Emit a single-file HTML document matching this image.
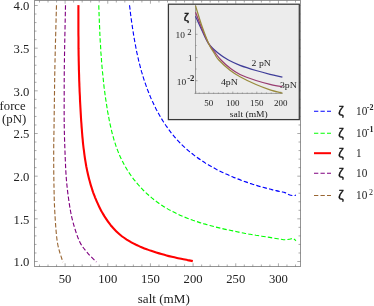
<!DOCTYPE html>
<html><head><meta charset="utf-8"><style>
html,body{margin:0;padding:0;background:#fff;}
svg{display:block;will-change:transform;font-family:"Liberation Serif",serif;}
.t text{font-size:11.5px;fill:#222;}
.i text{font-size:8.7px;fill:#222;}
.z{font-size:12.6px;stroke:#111;stroke-width:0.35px;fill:#111;font-family:"Liberation Sans",sans-serif;}
.lg{font-size:11.5px;fill:#222;}
.sup{font-size:8px;font-weight:bold;fill:#222;}
</style></head><body>
<svg width="374" height="306" viewBox="0 0 374 306">
<rect width="374" height="306" fill="#fff"/>
<g fill="none" stroke-linecap="butt" stroke-linejoin="round">
<path d="M56.5 5.3C56.2 14.8 55.3 47.5 55.0 62.0C54.7 76.5 54.6 82.0 54.5 92.0C54.4 102.0 54.2 112.0 54.1 122.0C54.0 132.0 53.7 142.0 53.7 152.0C53.7 162.0 53.7 172.0 53.9 182.0C54.1 192.0 54.2 201.8 54.8 212.0C55.4 222.2 56.1 234.6 57.5 243.0C58.9 251.4 62.1 259.0 63.0 262.2" stroke="#996633" stroke-width="1.12" stroke-dasharray="4.4 2.2"/>
<path d="M65.5 5.3C65.3 14.8 64.6 47.5 64.4 62.0C64.2 76.5 64.2 82.0 64.2 92.0C64.2 102.0 64.1 112.0 64.2 122.0C64.3 132.0 64.6 142.0 65.0 152.0C65.4 162.0 65.7 172.2 66.6 182.0C67.5 191.8 69.1 203.2 70.5 211.0C71.9 218.8 73.4 223.7 75.0 229.0C76.6 234.3 78.2 239.0 80.3 243.0C82.4 247.0 84.8 249.6 87.5 252.8C90.2 256.0 94.9 260.5 96.4 262.0" stroke="#800080" stroke-width="1.12" stroke-dasharray="4.4 2.2"/>
<path d="M98.8 5.3C98.8 6.3 98.9 9.3 99.0 11.2C99.0 13.2 99.1 15.2 99.2 17.2C99.3 19.1 99.3 21.1 99.4 23.1C99.5 25.0 99.6 27.0 99.7 28.9C99.8 30.9 99.8 32.9 99.9 34.8C100.0 36.8 100.1 38.7 100.2 40.7C100.3 42.6 100.5 44.6 100.6 46.5C100.7 48.5 100.8 50.4 100.9 52.4C101.1 54.3 101.2 56.3 101.4 58.2C101.5 60.2 101.6 62.1 101.8 64.1C102.0 66.0 102.1 68.0 102.3 69.9C102.5 71.9 102.7 73.8 102.9 75.7C103.1 77.7 103.3 79.6 103.5 81.6C103.7 83.5 103.9 85.5 104.1 87.4C104.4 89.4 104.6 91.3 104.9 93.2C105.1 95.2 105.4 97.1 105.7 99.1C106.0 101.0 106.3 103.0 106.6 104.9C106.9 106.9 107.2 108.8 107.5 110.8C107.9 112.7 108.2 114.7 108.6 116.6C108.9 118.6 109.3 120.5 109.7 122.5C110.1 124.4 110.6 126.4 111.0 128.3C111.5 130.2 111.9 132.1 112.4 134.1C112.9 136.0 113.5 137.9 114.0 139.8C114.6 141.7 115.2 143.5 115.8 145.4C116.4 147.3 117.1 149.1 117.8 150.9C118.5 152.8 119.3 154.6 120.1 156.4C120.9 158.1 121.7 159.9 122.6 161.6C123.4 163.4 124.4 165.1 125.4 166.8C126.3 168.5 127.3 170.1 128.4 171.8C129.5 173.4 130.6 175.0 131.7 176.6C132.9 178.2 134.1 179.7 135.3 181.2C136.5 182.8 137.8 184.2 139.1 185.7C140.4 187.2 141.7 188.6 143.1 190.0C144.5 191.3 145.9 192.7 147.3 194.0C148.8 195.3 150.3 196.6 151.8 197.9C153.3 199.1 154.8 200.3 156.4 201.5C158.0 202.6 159.6 203.8 161.2 204.9C162.8 205.9 164.5 207.0 166.2 208.0C167.8 209.0 169.5 210.0 171.3 210.9C173.0 211.8 174.7 212.7 176.5 213.5C178.3 214.4 180.1 215.2 181.9 216.0C183.7 216.8 185.5 217.5 187.3 218.2C189.2 218.9 191.0 219.6 192.9 220.3C194.8 220.9 196.6 221.5 198.5 222.1C200.4 222.8 202.3 223.3 204.2 223.9C206.1 224.4 208.0 225.0 209.9 225.5C211.8 226.0 213.7 226.5 215.6 227.0C217.6 227.5 219.5 227.9 221.4 228.4C223.3 228.9 225.2 229.3 227.1 229.7C229.0 230.1 231.0 230.5 232.9 230.9C234.8 231.3 236.7 231.7 238.6 232.1C240.5 232.5 242.5 232.9 244.4 233.2C246.3 233.6 248.2 233.9 250.2 234.3C252.1 234.6 254.0 234.9 255.9 235.3C257.9 235.6 259.8 235.9 261.7 236.2C263.7 236.5 265.6 236.8 267.5 237.1C269.5 237.5 271.4 237.8 273.3 238.1C275.3 238.4 277.2 238.6 279.1 238.9C281.1 239.2 283.3 239.8 285.0 239.8C286.6 239.9 287.7 239.4 289.1 239.2C290.5 239.0 292.1 238.4 293.2 238.7C294.3 238.9 295.5 240.4 296.0 240.7" stroke="#00ff00" stroke-width="1.12" stroke-dasharray="4.4 2.2"/>
<path d="M129.5 5.2C129.6 6.0 129.9 8.2 130.1 9.7C130.3 11.2 130.4 12.7 130.6 14.2C130.8 15.7 131.0 17.2 131.2 18.7C131.4 20.2 131.6 21.7 131.8 23.2C132.1 24.7 132.3 26.2 132.5 27.7C132.7 29.2 132.9 30.6 133.2 32.1C133.4 33.6 133.6 35.1 133.9 36.6C134.1 38.1 134.4 39.6 134.7 41.1C134.9 42.5 135.2 44.0 135.5 45.5C135.8 47.0 136.0 48.5 136.3 49.9C136.6 51.4 136.9 52.9 137.3 54.4C137.6 55.8 137.9 57.3 138.3 58.8C138.6 60.2 138.9 61.7 139.3 63.2C139.7 64.6 140.1 66.1 140.4 67.5C140.8 69.0 141.2 70.4 141.6 71.9C142.1 73.3 142.5 74.8 142.9 76.2C143.4 77.7 143.8 79.1 144.3 80.6C144.8 82.0 145.3 83.4 145.8 84.9C146.3 86.3 146.8 87.7 147.3 89.1C147.9 90.6 148.4 92.0 149.0 93.4C149.5 94.8 150.1 96.2 150.7 97.6C151.3 99.0 152.0 100.4 152.6 101.8C153.2 103.2 153.9 104.5 154.5 105.9C155.2 107.3 155.9 108.6 156.6 110.0C157.3 111.3 158.0 112.6 158.8 114.0C159.5 115.3 160.3 116.6 161.0 117.9C161.8 119.2 162.6 120.5 163.4 121.7C164.2 123.0 165.1 124.3 165.9 125.5C166.8 126.8 167.6 128.0 168.5 129.2C169.4 130.4 170.3 131.6 171.2 132.8C172.1 134.0 173.1 135.1 174.1 136.3C175.0 137.4 176.0 138.6 177.0 139.7C178.0 140.8 179.0 141.9 180.1 143.0C181.1 144.0 182.2 145.1 183.3 146.1C184.4 147.1 185.5 148.1 186.6 149.1C187.7 150.1 188.9 151.1 190.0 152.1C191.2 153.0 192.4 153.9 193.6 154.9C194.7 155.8 196.0 156.7 197.2 157.5C198.4 158.4 199.7 159.3 200.9 160.1C202.2 161.0 203.4 161.8 204.7 162.6C206.0 163.4 207.3 164.2 208.6 164.9C209.9 165.7 211.2 166.5 212.5 167.2C213.9 167.9 215.2 168.7 216.5 169.4C217.9 170.1 219.2 170.8 220.6 171.4C222.0 172.1 223.3 172.8 224.7 173.4C226.1 174.0 227.5 174.7 228.9 175.3C230.3 175.9 231.7 176.5 233.1 177.1C234.5 177.6 235.9 178.2 237.3 178.8C238.7 179.3 240.1 179.8 241.5 180.4C242.9 180.9 244.4 181.4 245.8 181.9C247.2 182.4 248.6 182.9 250.1 183.4C251.5 183.8 252.9 184.3 254.4 184.7C255.8 185.2 257.3 185.6 258.7 186.1C260.1 186.5 261.6 186.9 263.0 187.3C264.5 187.7 265.9 188.1 267.4 188.5C268.9 188.9 270.3 189.2 271.8 189.6C273.2 190.0 274.7 190.3 276.1 190.6C277.6 191.0 279.1 191.3 280.5 191.6C282.0 192.0 283.5 192.1 284.9 192.6C286.4 193.1 287.7 194.2 289.1 194.7C290.5 195.2 292.1 195.5 293.2 195.6C294.3 195.7 295.5 195.2 296.0 195.1" stroke="#0000ff" stroke-width="1.12" stroke-dasharray="4.4 2.2"/>
<path d="M78.5 5.2C78.4 6.1 78.4 8.9 78.4 10.7C78.4 12.5 78.4 14.3 78.4 16.1C78.4 17.9 78.4 19.7 78.4 21.5C78.4 23.3 78.4 25.1 78.4 26.9C78.4 28.7 78.4 30.5 78.4 32.3C78.4 34.1 78.4 35.9 78.5 37.7C78.5 39.5 78.5 41.3 78.5 43.1C78.5 44.8 78.5 46.6 78.5 48.4C78.6 50.2 78.6 52.0 78.6 53.8C78.6 55.5 78.7 57.3 78.7 59.1C78.7 60.9 78.8 62.7 78.8 64.5C78.9 66.2 78.9 68.0 78.9 69.8C79.0 71.6 79.0 73.4 79.1 75.1C79.1 76.9 79.2 78.7 79.2 80.5C79.3 82.3 79.4 84.0 79.4 85.8C79.5 87.6 79.6 89.4 79.6 91.2C79.7 92.9 79.8 94.7 79.9 96.5C79.9 98.3 80.0 100.1 80.1 101.9C80.2 103.7 80.3 105.4 80.4 107.2C80.5 109.0 80.6 110.8 80.7 112.6C80.8 114.4 80.9 116.2 81.0 118.0C81.1 119.8 81.2 121.6 81.4 123.4C81.5 125.2 81.6 127.0 81.8 128.8C81.9 130.6 82.0 132.4 82.2 134.2C82.3 136.0 82.5 137.8 82.7 139.6C82.8 141.4 83.0 143.2 83.2 145.0C83.4 146.8 83.6 148.6 83.9 150.4C84.1 152.2 84.3 154.0 84.6 155.8C84.8 157.6 85.1 159.4 85.4 161.2C85.7 162.9 86.0 164.7 86.3 166.5C86.7 168.2 87.0 170.0 87.4 171.8C87.8 173.5 88.2 175.3 88.6 177.0C89.0 178.7 89.5 180.4 90.0 182.2C90.4 183.9 90.9 185.6 91.5 187.3C92.0 189.0 92.6 190.7 93.1 192.3C93.7 194.0 94.4 195.7 95.0 197.3C95.7 199.0 96.3 200.6 97.1 202.2C97.8 203.8 98.5 205.4 99.3 207.0C100.1 208.6 101.0 210.2 101.8 211.8C102.7 213.3 103.6 214.9 104.5 216.4C105.5 217.9 106.5 219.4 107.5 220.9C108.5 222.4 109.6 223.8 110.7 225.2C111.9 226.6 113.0 228.0 114.3 229.3C115.5 230.6 116.8 231.9 118.1 233.1C119.4 234.3 120.8 235.4 122.2 236.5C123.7 237.6 125.2 238.6 126.7 239.6C128.2 240.5 129.7 241.4 131.3 242.3C132.9 243.2 134.5 244.0 136.1 244.8C137.7 245.5 139.4 246.3 141.0 247.0C142.7 247.7 144.3 248.4 146.0 249.0C147.7 249.6 149.4 250.3 151.1 250.8C152.8 251.4 154.5 252.0 156.2 252.5C157.9 253.0 159.6 253.5 161.4 254.0C163.1 254.5 164.8 255.0 166.5 255.4C168.3 255.9 170.0 256.3 171.8 256.7C173.5 257.1 175.3 257.5 177.0 257.9C178.8 258.3 180.5 258.6 182.3 259.0C184.0 259.4 185.8 259.7 187.5 260.1C189.3 260.4 191.9 260.9 192.8 261.1" stroke="#ff0000" stroke-width="2.1"/>
</g>
<rect x="34.5" y="0.5" width="266.0" height="266.0" fill="none" stroke="#666" stroke-opacity="0.7" stroke-width="1"/>
<path d="M39.50 266.50v-2.00M39.50 0.50v2.00M48.03 266.50v-2.00M48.03 0.50v2.00M56.56 266.50v-2.00M56.56 0.50v2.00M65.10 266.50v-3.20M65.10 0.50v3.20M73.63 266.50v-2.00M73.63 0.50v2.00M82.16 266.50v-2.00M82.16 0.50v2.00M90.70 266.50v-2.00M90.70 0.50v2.00M99.23 266.50v-2.00M99.23 0.50v2.00M107.76 266.50v-3.20M107.76 0.50v3.20M116.30 266.50v-2.00M116.30 0.50v2.00M124.83 266.50v-2.00M124.83 0.50v2.00M133.36 266.50v-2.00M133.36 0.50v2.00M141.90 266.50v-2.00M141.90 0.50v2.00M150.43 266.50v-3.20M150.43 0.50v3.20M158.96 266.50v-2.00M158.96 0.50v2.00M167.50 266.50v-2.00M167.50 0.50v2.00M176.03 266.50v-2.00M176.03 0.50v2.00M184.56 266.50v-2.00M184.56 0.50v2.00M193.10 266.50v-3.20M193.10 0.50v3.20M201.63 266.50v-2.00M201.63 0.50v2.00M210.16 266.50v-2.00M210.16 0.50v2.00M218.70 266.50v-2.00M218.70 0.50v2.00M227.23 266.50v-2.00M227.23 0.50v2.00M235.76 266.50v-3.20M235.76 0.50v3.20M244.30 266.50v-2.00M244.30 0.50v2.00M252.83 266.50v-2.00M252.83 0.50v2.00M261.36 266.50v-2.00M261.36 0.50v2.00M269.90 266.50v-2.00M269.90 0.50v2.00M278.43 266.50v-3.20M278.43 0.50v3.20M286.96 266.50v-2.00M286.96 0.50v2.00M295.50 266.50v-2.00M295.50 0.50v2.00M34.50 261.50h3.20M300.50 261.50h-3.20M34.50 252.97h2.00M300.50 252.97h-2.00M34.50 244.43h2.00M300.50 244.43h-2.00M34.50 235.90h2.00M300.50 235.90h-2.00M34.50 227.37h2.00M300.50 227.37h-2.00M34.50 218.83h3.20M300.50 218.83h-3.20M34.50 210.30h2.00M300.50 210.30h-2.00M34.50 201.77h2.00M300.50 201.77h-2.00M34.50 193.23h2.00M300.50 193.23h-2.00M34.50 184.70h2.00M300.50 184.70h-2.00M34.50 176.17h3.20M300.50 176.17h-3.20M34.50 167.63h2.00M300.50 167.63h-2.00M34.50 159.10h2.00M300.50 159.10h-2.00M34.50 150.57h2.00M300.50 150.57h-2.00M34.50 142.03h2.00M300.50 142.03h-2.00M34.50 133.50h3.20M300.50 133.50h-3.20M34.50 124.97h2.00M300.50 124.97h-2.00M34.50 116.43h2.00M300.50 116.43h-2.00M34.50 107.90h2.00M300.50 107.90h-2.00M34.50 99.37h2.00M300.50 99.37h-2.00M34.50 90.83h3.20M300.50 90.83h-3.20M34.50 82.30h2.00M300.50 82.30h-2.00M34.50 73.77h2.00M300.50 73.77h-2.00M34.50 65.23h2.00M300.50 65.23h-2.00M34.50 56.70h2.00M300.50 56.70h-2.00M34.50 48.17h3.20M300.50 48.17h-3.20M34.50 39.63h2.00M300.50 39.63h-2.00M34.50 31.10h2.00M300.50 31.10h-2.00M34.50 22.57h2.00M300.50 22.57h-2.00M34.50 14.03h2.00M300.50 14.03h-2.00M34.50 5.50h3.20M300.50 5.50h-3.20" stroke="#666" stroke-opacity="0.55" stroke-width="1" fill="none"/>
<g class="t"><text transform="translate(65.10 283.30) scale(1.100 1)" text-anchor="middle" >50</text><text transform="translate(107.76 283.30) scale(1.100 1)" text-anchor="middle" >100</text><text transform="translate(150.43 283.30) scale(1.100 1)" text-anchor="middle" >150</text><text transform="translate(193.10 283.30) scale(1.100 1)" text-anchor="middle" >200</text><text transform="translate(235.76 283.30) scale(1.100 1)" text-anchor="middle" >250</text><text transform="translate(278.43 283.30) scale(1.100 1)" text-anchor="middle" >300</text><text transform="translate(29.40 266.40) scale(1.100 1)" text-anchor="end" >1.0</text><text transform="translate(29.40 223.73) scale(1.100 1)" text-anchor="end" >1.5</text><text transform="translate(29.40 181.07) scale(1.100 1)" text-anchor="end" >2.0</text><text transform="translate(29.40 138.40) scale(1.100 1)" text-anchor="end" >2.5</text><text transform="translate(29.40 95.73) scale(1.100 1)" text-anchor="end" >3.0</text><text transform="translate(29.40 53.07) scale(1.100 1)" text-anchor="end" >3.5</text><text transform="translate(29.40 10.40) scale(1.100 1)" text-anchor="end" >4.0</text>
<text transform="translate(12.60 109.80) scale(1.100 1)" text-anchor="middle" >force</text>
<text transform="translate(14.20 123.30) scale(1.120 1)" text-anchor="middle" >(pN)</text>
<text transform="translate(163.80 302.50) scale(1.140 1)" text-anchor="middle" >salt (mM)</text>
</g>
<rect x="168.4" y="4.2" width="130.9" height="115.4" fill="#ececec" stroke="#383838" stroke-width="1.25"/>
<path d="M195.5 4.8V93.6M194.5 93.4H282.6" stroke="#666" stroke-width="0.6" fill="none"/>
<path d="M199.20 93.6v-1.10M204.00 93.6v-1.10M208.80 93.6v-2.00M213.60 93.6v-1.10M218.40 93.6v-1.10M223.20 93.6v-1.10M228.00 93.6v-1.10M232.80 93.6v-2.00M237.60 93.6v-1.10M242.40 93.6v-1.10M247.20 93.6v-1.10M252.00 93.6v-1.10M256.80 93.6v-2.00M261.60 93.6v-1.10M266.40 93.6v-1.10M271.20 93.6v-1.10M276.00 93.6v-1.10M280.80 93.6v-2.00M195.5 34.30h2M195.5 57.60h2M195.5 80.70h2M195.5 22.10h1.1M195.5 45.50h1.1M195.5 69.00h1.1M195.5 92.00h1.1" stroke="#666" stroke-width="0.5" fill="none"/>
<g fill="none" stroke-width="1.25">
<path d="M195.5 16.2C196.6 18.6 199.8 25.9 202.0 30.5C204.2 35.1 206.1 40.1 208.8 43.9C211.5 47.6 214.7 50.3 218.0 53.0C221.3 55.7 224.7 58.0 228.4 60.0C232.1 62.0 235.4 63.5 240.0 65.3C244.6 67.0 251.0 69.0 256.0 70.5C261.0 72.0 265.6 73.2 270.0 74.3C274.4 75.4 280.3 76.6 282.4 77.1" stroke="#3f3d99"/>
<path d="M195.5 12.3C196.6 15.1 199.8 23.5 202.0 28.8C204.2 34.1 206.5 39.7 208.8 43.9C211.1 48.1 214.0 51.3 216.0 54.0C218.0 56.7 218.7 57.6 221.0 60.0C223.3 62.4 226.8 65.7 230.0 68.1C233.2 70.5 235.7 72.4 240.0 74.5C244.3 76.6 251.0 78.9 256.0 80.5C261.0 82.1 265.6 83.3 270.0 84.3C274.4 85.3 280.3 86.3 282.4 86.7" stroke="#993d71"/>
<path d="M195.5 5.8C196.6 9.2 199.8 19.9 202.0 26.3C204.2 32.6 206.6 39.2 208.8 43.9C211.0 48.6 213.3 51.8 215.0 54.5C216.7 57.2 216.3 57.4 218.8 60.0C221.3 62.6 226.5 67.5 230.0 70.3C233.5 73.1 235.7 74.3 240.0 76.7C244.3 79.1 251.0 82.3 256.0 84.5C261.0 86.7 265.6 88.3 270.0 89.8C274.4 91.2 280.3 92.6 282.4 93.2" stroke="#998b3d"/>
</g>
<g class="i"><text transform="translate(208.80 106.00) scale(1.030 1)" text-anchor="middle" >50</text><text transform="translate(232.80 106.00) scale(1.030 1)" text-anchor="middle" >100</text><text transform="translate(256.80 106.00) scale(1.030 1)" text-anchor="middle" >150</text><text transform="translate(280.80 106.00) scale(1.030 1)" text-anchor="middle" >200</text>
<text transform="translate(175.50 38.00) scale(1.080 1)" text-anchor="start" >10</text><text transform="translate(187.30 34.90) scale(1.000 1)" text-anchor="start" font-size="7.4">2</text>
<text transform="translate(187.90 61.00) scale(1.050 1)" text-anchor="start" >1</text>
<text transform="translate(176.80 84.90) scale(1.080 1)" text-anchor="start" >10</text><text transform="translate(187.20 81.10) scale(1.000 1)" text-anchor="start" font-size="7.8" font-weight="bold">-2</text>
<text transform="translate(251.60 65.60) scale(1.120 1)" text-anchor="start" >2 pN</text>
<text transform="translate(279.90 88.10) scale(1.130 1)" text-anchor="start" >3pN</text>
<text transform="translate(220.90 84.90) scale(1.130 1)" text-anchor="start" >4pN</text>
<text transform="translate(248.80 117.00) scale(1.100 1)" text-anchor="middle" >salt (mM)</text>
<text x="183.7" y="20.8" class="z" style="font-size:11.8px;stroke-width:0.45px">ζ</text>
</g>
<g><path d="M314 111.3H331" stroke="#0000ff" stroke-width="1.1" stroke-dasharray="4.3 2.2" fill="none"/><text x="338.3" y="114.7" class="z">ζ</text><text transform="translate(356.00 114.90) scale(0.980 1)" text-anchor="start" class="lg">10</text><text transform="translate(366.80 110.30) scale(1.000 1)" text-anchor="start" class="sup">-2</text><path d="M314 133.2H331" stroke="#00ff00" stroke-width="1.1" stroke-dasharray="4.3 2.2" fill="none"/><text x="338.3" y="136.6" class="z">ζ</text><text transform="translate(356.00 136.80) scale(0.980 1)" text-anchor="start" class="lg">10</text><text transform="translate(366.80 132.20) scale(1.000 1)" text-anchor="start" class="sup">-1</text><path d="M314 153.2H331" stroke="#ff0000" stroke-width="2"  fill="none"/><text x="338.3" y="156.6" class="z">ζ</text><text transform="translate(356.00 156.80) scale(0.980 1)" text-anchor="start" class="lg">1</text><path d="M314 173.2H331" stroke="#800080" stroke-width="1.1" stroke-dasharray="4.3 2.2" fill="none"/><text x="338.3" y="176.6" class="z">ζ</text><text transform="translate(356.00 176.80) scale(0.980 1)" text-anchor="start" class="lg">10</text><path d="M314 195.5H331" stroke="#996633" stroke-width="1.1" stroke-dasharray="4.3 2.2" fill="none"/><text x="338.3" y="198.9" class="z">ζ</text><text transform="translate(356.00 199.10) scale(0.980 1)" text-anchor="start" class="lg">10</text><text transform="translate(368.90 194.90) scale(1.000 1)" text-anchor="start" class="sup" style="font-weight:normal">2</text></g>
</svg>
</body></html>
